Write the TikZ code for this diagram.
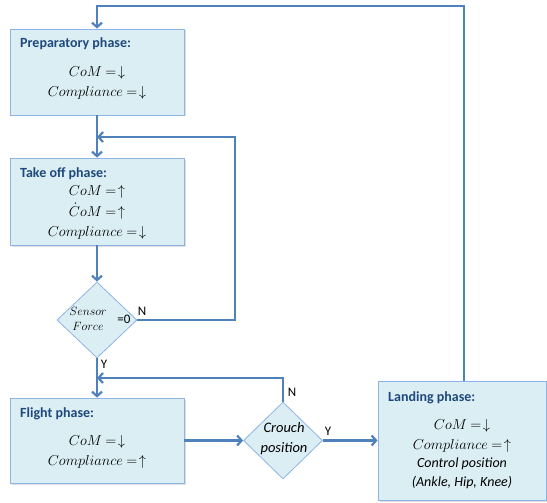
\documentclass[tikz,border=0pt]{standalone}
\usepackage{fontspec}
\setmainfont{Carlito}
\usetikzlibrary{shapes.geometric,arrows.meta,shadows}

\definecolor{boxfill}{HTML}{DBEEF4}
\definecolor{boxline}{HTML}{8EB4E3}
\definecolor{flowline}{HTML}{4F81BD}
\definecolor{titleblue}{HTML}{1F497D}

\tikzset{
    phase/.style={draw=boxline, fill=boxfill, line width=0.8pt, rectangle, inner sep=0pt,
        drop shadow={shadow xshift=1.5pt, shadow yshift=-1.5pt, opacity=0.25}},
    decision/.style={draw=boxline, fill=boxfill, line width=0.8pt, diamond, inner sep=0pt},
    phasetitle/.style={anchor=base west, text=titleblue, font=\fontsize{14}{16}\selectfont\bfseries, inner sep=0pt},
    phasetext/.style={align=center, font=\fontsize{15}{20}\selectfont, inner sep=0pt},
    flow/.style={draw=flowline, line width=2.2pt, -{Straight Barb[length=4.5pt,width=10pt]}},
    answer/.style={font=\fontsize{13}{14}\selectfont, inner sep=0pt}
}

\begin{document}
\begin{tikzpicture}[x=1pt, y=-1pt]

    \useasboundingbox (0,0) rectangle (547,503);

    % boxes
    \node[phase, minimum width=174pt, minimum height=86pt] (prep) at (97,72) {};
    \node[phase, minimum width=174pt, minimum height=87pt] (takeoff) at (97,201.5) {};
    \node[decision, minimum width=80pt, minimum height=76pt] (sensor) at (97,320) {};
    \node[phase, minimum width=174pt, minimum height=85pt] (flight) at (97,440.5) {};
    \node[decision, minimum width=79pt, minimum height=77pt] (crouch) at (283,440.5) {};
    \node[phase, minimum width=168pt, minimum height=119pt] (landing) at (462,440.5) {};

    % texts
    \node[phasetitle] (prept) at (20,48) {Preparatory phase:};
    \node[phasetext] (prepx) at (97,83) {$CoM\ {=}\!\downarrow$\\$Compliance\ {=}\!\downarrow$};

    \node[phasetitle] (takeofft) at (20,178) {Take off phase:};
    \node[phasetext] (takeoffx) at (97,212) {$CoM\ {=}\!\uparrow$\\[1pt]$\dot{C}oM\ {=}\!\uparrow$\\$Compliance\ {=}\!\downarrow$};

    \node[align=center, inner sep=0pt, font=\fontsize{12.5}{15}\selectfont] (sensorx) at (88,319) {$Sensor$\\$Force$};
    \node[inner sep=0pt, font=\fontsize{13}{14}\selectfont] (sensoreq) at (124,319) {=0};

    \node[phasetitle] (flightt) at (20,417) {Flight phase:};
    \node[phasetext] (flightx) at (97,452) {$CoM\ {=}\!\downarrow$\\$Compliance\ {=}\!\uparrow$};

    \node[align=center, inner sep=0pt, font=\fontsize{14.5}{20}\selectfont\itshape] (crouchx) at (284,439) {Crouch\\position};

    \node[phasetitle] (landingt) at (388,401) {Landing phase:};
    \node[phasetext] (landingx) at (462,436) {$CoM\ {=}\!\downarrow$\\$Compliance\ {=}\!\uparrow$};
    \node[align=center, inner sep=0pt, font=\fontsize{14}{19}\selectfont\itshape] (landingc) at (462,473) {Control position\\(Ankle, Hip, Knee)};

    % connectors
    \coordinate (top) at (464,6);
    \coordinate (loopA) at (235,137);
    \coordinate (loopB) at (283,378);

    \draw[flow] (landing.north -| top) -- (top) -- (top -| prep.north) -- (prep.north);
    \draw[flow] (prep) -- (takeoff);
    \draw[flow] (takeoff) -- (sensor);
    \draw[flow] (sensor.east) -| (loopA) -- (loopA -| takeoff.north);
    \draw[flow] (sensor) -- (flight);
    \draw[flow] (crouch.north) -- (loopB) -- (loopB -| flight.north);
    \draw[flow] (flight.east) -- (crouch.west);
    \draw[flow] (crouch) -- (landing);

    \node[answer] (sensorn) at (142,311) {N};
    \node[answer] (sensory) at (104,364) {Y};
    \node[answer] (crouchn) at (292,392) {N};
    \node[answer] (crouchy) at (328,431) {Y};

\end{tikzpicture}
\end{document}
